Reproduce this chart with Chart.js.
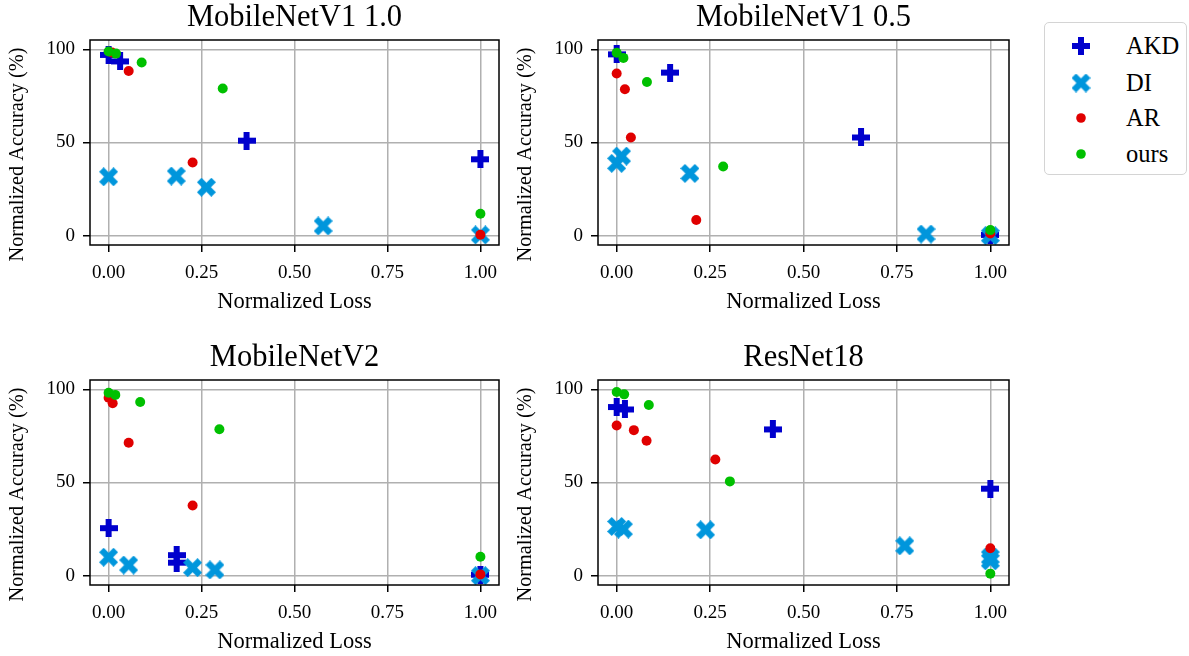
<!DOCTYPE html>
<html>
<head>
<meta charset="utf-8">
<script src="https://cdn.jsdelivr.net/npm/chart.js@4.4.1/dist/chart.umd.min.js"></script>
<style>
  body { margin: 0; background: #fff; width: 1189px; height: 656px; overflow: hidden; position: relative;
         font-family: "Liberation Serif", "Times New Roman", serif; }
  canvas { position: absolute; }
  #legend { position: absolute; left: 1044px; top: 22px; width: 141px; height: 151px;
            border: 1.5px solid #d4d4d4; border-radius: 5px; background: #fff; }
  #legend .row { position: absolute; left: 0; height: 30px; width: 141px; }
  #legend .row canvas { position: absolute; left: 26px; top: 5px; }
  #legend .row span { position: absolute; left: 81px; top: 0; font-size: 24.5px; line-height: 30px; color: #000; }
</style>
</head>
<body>
<canvas id="c0" width="510" height="316" style="left:0;top:0"></canvas>
<canvas id="c1" width="510" height="316" style="left:508px;top:0"></canvas>
<canvas id="c2" width="510" height="316" style="left:0;top:340px"></canvas>
<canvas id="c3" width="510" height="316" style="left:508px;top:340px"></canvas>
<div id="legend"></div>

<script>
///////////////////////////
// DATA
///////////////////////////

const xTicks = [0, 0.25, 0.5, 0.75, 1];
const yTicks = [0, 50, 100];
const panelTitles = ["MobileNetV1 1.0", "MobileNetV1 0.5", "MobileNetV2", "ResNet18"];
const seriesNames = ["AKD", "DI", "AR", "ours"];
const xLabel = "Normalized Loss";
const yLabel = "Normalized Accuracy (%)";

// MobileNetV1 1.0
const v1full_akd = [[0, 97], [0.031, 93.5], [0.371, 51], [1, 41]];
const v1full_di = [[0, 31.6], [0.182, 32], [0.263, 26], [0.577, 5.2], [1, 0.4]];
const v1full_ar = [[0.009, 98.3], [0.054, 88.4], [0.226, 39.3], [1, 0.5]];
const v1full_ours = [[0, 98.8], [0.02, 97.7], [0.089, 92.9], [0.307, 79], [1, 11.8]];

// MobileNetV1 0.5
const v1half_akd = [[0, 97.3], [0.143, 87.5], [0.654, 52.7], [1, 0.4]];
const v1half_di = [[0, 38.8], [0.013, 42.7], [0.196, 33.4], [0.828, 0.9], [1, 0]];
const v1half_ar = [[0, 87], [0.022, 78.6], [0.038, 52.7], [0.213, 8.4], [1, 1.2]];
const v1half_ours = [[0, 98.2], [0.018, 95.4], [0.081, 82.5], [0.285, 37.1], [1, 3]];

// MobileNetV2
const v2_akd = [[0, 25.5], [0.183, 11], [0.183, 7], [1, 0.5]];
const v2_di = [[0, 9.9], [0.054, 5.7], [0.226, 4.3], [0.286, 3.1], [1, 0]];
const v2_ar = [[0, 95.5], [0.011, 92.5], [0.054, 71.3], [0.226, 37.7], [1, 0.7]];
const v2_ours = [[0, 98.2], [0.018, 97], [0.085, 93.2], [0.298, 78.6], [1, 10.2]];

// ResNet18
const r18_akd = [[0, 90.5], [0.022, 89.2], [0.418, 78.5], [1, 46.7]];
const r18_di = [[0, 26.4], [0.018, 25], [0.238, 24.6], [0.771, 16], [1, 10], [1, 8]];
const r18_ar = [[0, 80.6], [0.046, 78.1], [0.08, 72.4], [0.264, 62.3], [1, 14.7]];
const r18_ours = [[0, 98.6], [0.02, 97.3], [0.086, 91.6], [0.303, 50.6], [1, 1.1]];

const panelData = [
    [v1full_akd, v1full_di, v1full_ar, v1full_ours],
    [v1half_akd, v1half_di, v1half_ar, v1half_ours],
    [v2_akd, v2_di, v2_ar, v2_ours],
    [r18_akd, r18_di, r18_ar, r18_ours]
];

const seriesColors = ["#0000cd", "#0096dc", "#e00000", "#00c000"];

///////////////////////////
// MARKERS
///////////////////////////

function plusMarker(color, size, arm) {
    const c = document.createElement("canvas");
    c.width = c.height = size;
    const g = c.getContext("2d");
    g.fillStyle = color;
    const a = (size - arm) / 2;
    g.fillRect(a, 0, arm, size);
    g.fillRect(0, a, size, arm);
    return c;
}

function xMarker(color, size, arm) {
    const c = document.createElement("canvas");
    c.width = c.height = size;
    const g = c.getContext("2d");
    g.fillStyle = color;
    const len = size * Math.SQRT2 - arm;
    g.translate(size / 2, size / 2);
    g.rotate(Math.PI / 4);
    g.fillRect(-len / 2, -arm / 2, len, arm);
    g.fillRect(-arm / 2, -len / 2, arm, len);
    return c;
}

const markerStyles = [
    plusMarker(seriesColors[0], 18, 6),
    xMarker(seriesColors[1], 19, 6.5),
    "circle",
    "circle"
];

///////////////////////////
// CHARTS
///////////////////////////

const FONT = "'Liberation Serif', 'Times New Roman', serif";

// full black box round the axes + the y label (sits a bit below centre, like the original)
const framePlugin = {
    id: "frame",
    afterDraw(chart) {
        const { ctx, chartArea: a } = chart;
        ctx.save();
        ctx.strokeStyle = "#000";
        ctx.lineWidth = 1.5;
        ctx.strokeRect(a.left, a.top, a.right - a.left, a.bottom - a.top);

        ctx.translate(18, (a.top + a.bottom) / 2 + 12);
        ctx.rotate(-Math.PI / 2);
        ctx.fillStyle = "#000";
        ctx.font = "20.3px " + FONT;
        ctx.textAlign = "center";
        ctx.textBaseline = "middle";
        ctx.fillText(yLabel, 0, 0);
        ctx.restore();
    }
};

function buildPanel(idx) {
    const canvas = document.getElementById("c" + idx);
    const rightPad = idx % 2 === 0 ? 11 : 9;

    const datasets = panelData[idx].map((arr, i) => ({
        label: seriesNames[i],
        data: arr.map(([x, y]) => ({ x, y })),
        pointStyle: markerStyles[i],
        pointRadius: i < 2 ? 9 : 5,
        backgroundColor: seriesColors[i],
        borderColor: seriesColors[i],
        borderWidth: 0,
        order: 4 - i
    }));

    new Chart(canvas, {
        type: "scatter",
        data: { datasets },
        options: {
            responsive: false,
            animation: false,
            events: [],
            layout: { padding: { left: 0, right: rightPad, top: 0, bottom: 0 } },
            plugins: {
                legend: { display: false },
                tooltip: { enabled: false },
                title: {
                    display: true,
                    fullSize: false,
                    text: panelTitles[idx],
                    color: "#000",
                    font: { family: FONT, size: 30.5, weight: "normal", lineHeight: 1.2 },
                    padding: { top: 0, bottom: 3.4 }
                }
            },
            scales: {
                x: {
                    type: "linear",
                    min: -0.05,
                    max: 1.05,
                    afterBuildTicks: s => { s.ticks = xTicks.map(v => ({ value: v })); },
                    afterFit: s => { s.height = 71; },
                    ticks: {
                        color: "#000",
                        font: { family: FONT, size: 19 },
                        padding: 10,
                        autoSkip: false,
                        maxRotation: 0,
                        callback: v => v.toFixed(2)
                    },
                    grid: { color: "#b0b0b0", lineWidth: 1.5, tickColor: "#000", tickLength: 7, tickWidth: 1.5 },
                    border: { display: false },
                    title: {
                        display: true,
                        text: xLabel,
                        color: "#000",
                        font: { family: FONT, size: 22.5, lineHeight: 1.2 },
                        padding: { top: 0, bottom: 0 }
                    }
                },
                y: {
                    type: "linear",
                    min: -5,
                    max: 105,
                    afterBuildTicks: s => { s.ticks = yTicks.map(v => ({ value: v })); },
                    afterFit: s => { s.width = 90; },
                    ticks: {
                        color: "#000",
                        font: { family: FONT, size: 19 },
                        padding: 8,
                        autoSkip: false,
                        callback: v => String(v)
                    },
                    grid: { color: "#b0b0b0", lineWidth: 1.5, tickColor: "#000", tickLength: 7, tickWidth: 1.5 },
                    border: { display: false },
                    title: { display: false }
                }
            }
        },
        plugins: [framePlugin]
    });
}

///////////////////////////
// LEGEND
///////////////////////////

function buildLegend() {
    const box = document.getElementById("legend");
    const rowTops = [8, 44.5, 80, 116];
    seriesNames.forEach((name, i) => {
        const row = document.createElement("div");
        row.className = "row";
        row.style.top = rowTops[i] + "px";

        const mk = document.createElement("canvas");
        mk.width = mk.height = 20;
        const g = mk.getContext("2d");
        if (i < 2) {
            const m = markerStyles[i];
            g.drawImage(m, 10 - m.width / 2, 10 - m.height / 2);
        } else {
            g.fillStyle = seriesColors[i];
            g.beginPath();
            g.arc(10, 10, 4.8, 0, Math.PI * 2);
            g.fill();
        }
        row.appendChild(mk);

        const lbl = document.createElement("span");
        lbl.textContent = name;
        row.appendChild(lbl);
        box.appendChild(row);
    });
}

///////////////////////////
// INIT
///////////////////////////

document.addEventListener("DOMContentLoaded", () => {
    [0, 1, 2, 3].forEach(buildPanel);
    buildLegend();
});
</script>
</body>
</html>
